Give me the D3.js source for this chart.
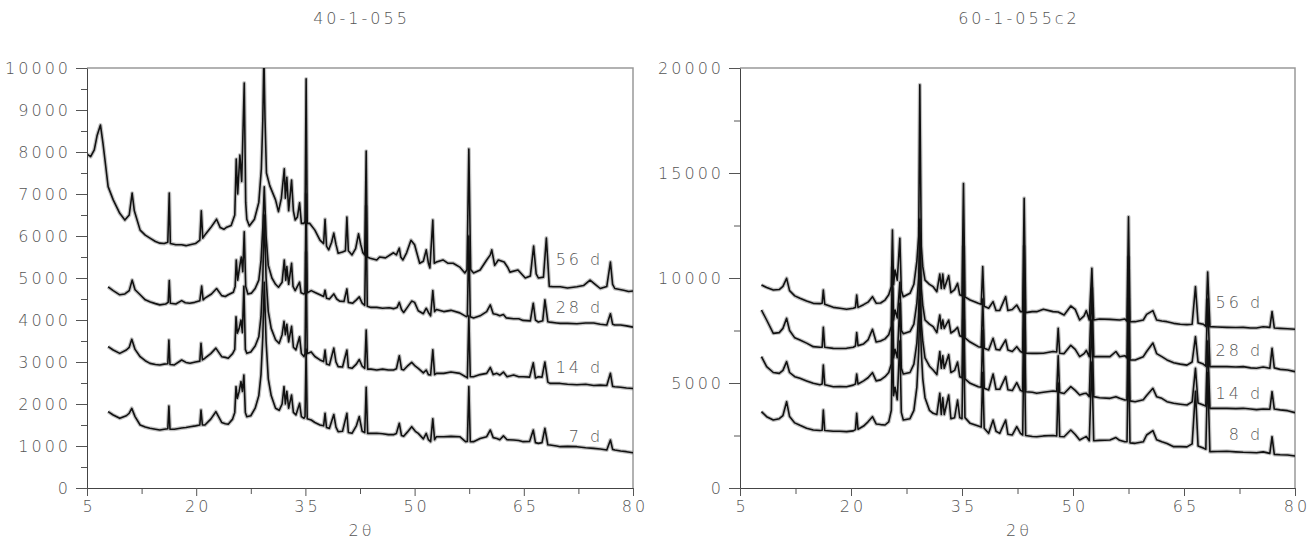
<!DOCTYPE html>
<html>
<head>
<meta charset="utf-8">
<script src="https://cdn.jsdelivr.net/npm/d3@7"></script>
<style>
  body { margin: 0; background: #fff; }
  text { font-family: "DejaVu Sans", sans-serif; font-weight: 200; fill: #555; letter-spacing: 3px; }
</style>
</head>
<body>
<svg id="chart" width="1313" height="548"></svg>
<script>
// ---- data (2θ, counts) ----
const xTicks = [5, 20, 35, 50, 65, 80]
const leftYTicks = [0, 1000, 2000, 3000, 4000, 5000, 6000, 7000, 8000, 9000, 10000]
const rightYTicks = [0, 5000, 10000, 15000, 20000]
const leftNames = ["56 d", "28 d", "14 d", "7 d"]
const rightNames = ["56 d", "28 d", "14 d", "8 d"]

const left56 = [[5.0,7950],[5.5,7890],[6.0,8050],[6.4,8400],[6.85,8640],[7.2,8200],[7.47,7810],[7.9,7175],[8.6,6860],[9.5,6540],[10.2,6380],[10.8,6500],[11.2,7020],[11.5,6600],[12.3,6140],[13.0,6020],[13.65,5950],[14.4,5870],[15.0,5830],[15.6,5820],[16.1,5850],[16.3,7020],[16.45,5820],[17.2,5790],[18.0,5790],[18.6,5770],[19.15,5790],[19.9,5820],[20.5,5900],[20.7,6600],[20.9,5950],[21.3,6050],[22.0,6200],[22.8,6400],[23.3,6200],[23.8,6160],[24.2,6210],[24.8,6250],[25.3,6500],[25.5,7830],[25.7,7000],[26.0,7930],[26.25,7300],[26.6,9640],[26.8,6800],[26.95,6400],[27.3,6240],[28.0,6400],[28.6,6800],[28.95,7600],[29.15,8760],[29.3,10300],[29.45,8800],[29.65,7500],[30.1,7200],[30.9,6860],[31.3,6580],[31.7,6900],[32.1,7600],[32.25,6900],[32.45,7400],[32.7,6600],[33.1,7330],[33.35,6600],[33.6,6380],[33.9,6450],[34.2,6790],[34.45,6300],[34.8,6300],[34.95,6350],[35.1,9740],[35.25,6300],[35.6,6300],[36.3,6140],[37.0,5900],[37.5,5820],[37.7,6400],[37.9,5760],[38.2,5670],[38.6,5850],[38.9,6070],[39.2,5800],[39.5,5590],[40.1,5620],[40.5,5650],[40.7,6450],[40.9,5650],[41.4,5550],[41.9,5700],[42.3,6050],[42.6,5800],[42.9,5600],[43.15,5550],[43.35,8020],[43.5,5500],[43.9,5470],[44.8,5430],[45.2,5500],[46.0,5480],[47.1,5600],[47.5,5550],[47.9,5710],[48.1,5500],[48.4,5430],[48.9,5600],[49.5,5900],[50.0,5790],[50.3,5600],[50.7,5350],[51.2,5400],[51.6,5670],[51.9,5350],[52.1,5240],[52.5,6380],[52.7,5350],[53.0,5380],[53.9,5430],[54.6,5350],[55.3,5350],[56.2,5260],[56.9,5120],[57.2,5200],[57.45,8070],[57.7,5200],[58.1,5120],[59.0,5190],[59.9,5430],[60.4,5550],[60.6,5670],[61.0,5300],[61.5,5430],[62.3,5380],[62.8,5250],[63.1,5140],[64.2,5190],[65.2,5000],[65.9,5050],[66.35,5760],[66.7,5100],[67.0,5000],[67.7,5020],[68.1,5950],[68.5,4800],[69.0,4790],[70.0,4790],[71.0,4760],[72.3,4790],[73.2,4820],[74.1,4950],[74.8,4850],[75.5,4750],[76.4,4800],[76.9,5380],[77.2,4850],[77.5,4750],[78.7,4710],[79.4,4680],[80.0,4690]]

const left28 = [[7.9,4790],[8.6,4700],[9.5,4600],[10.2,4620],[10.8,4700],[11.2,4950],[11.6,4720],[12.3,4600],[13.0,4480],[13.7,4430],[14.4,4390],[15.0,4360],[15.8,4380],[16.15,4420],[16.3,4940],[16.45,4400],[17.2,4380],[18.0,4460],[18.5,4410],[19.1,4400],[19.8,4420],[20.5,4460],[20.75,4810],[20.95,4480],[21.2,4520],[22.1,4620],[22.8,4750],[23.5,4580],[24.0,4560],[24.4,4600],[25.1,4660],[25.35,4800],[25.5,5430],[25.7,4950],[26.0,5300],[26.2,5500],[26.4,5150],[26.6,6100],[26.8,4800],[27.1,4620],[27.6,4640],[28.1,4750],[28.6,4950],[28.9,5400],[29.15,6200],[29.35,7170],[29.6,6000],[29.9,5300],[30.4,5000],[30.9,4850],[31.3,4780],[31.8,4900],[32.1,5430],[32.3,4950],[32.45,5270],[32.7,4850],[33.1,5350],[33.3,4800],[33.6,4700],[34.2,4900],[34.4,4650],[34.8,4620],[34.95,4650],[35.1,7000],[35.25,4650],[35.8,4700],[36.4,4650],[37.0,4600],[37.5,4560],[37.7,4710],[37.9,4520],[38.3,4500],[38.9,4620],[39.3,4500],[39.7,4450],[40.3,4440],[40.7,4740],[40.9,4420],[41.5,4400],[42.0,4480],[42.4,4550],[42.8,4400],[43.15,4350],[43.35,6700],[43.5,4330],[44.0,4300],[44.8,4300],[45.6,4280],[46.5,4290],[47.1,4270],[47.6,4300],[47.9,4420],[48.2,4250],[48.5,4180],[49.0,4300],[49.6,4450],[50.0,4420],[50.5,4220],[51.2,4150],[51.6,4280],[51.9,4180],[52.2,4100],[52.5,4700],[52.75,4200],[53.0,4250],[54.0,4200],[55.0,4230],[56.2,4170],[57.1,4080],[57.25,4100],[57.45,6000],[57.65,4080],[58.1,4050],[59.0,4100],[59.9,4200],[60.4,4360],[60.8,4150],[61.3,4130],[61.7,4100],[62.2,4130],[62.6,4050],[63.6,4030],[64.3,4030],[64.9,3990],[65.9,3980],[66.3,4400],[66.6,4000],[67.0,3950],[67.6,3980],[67.9,4480],[68.3,3960],[68.6,3950],[69.5,3930],[70.0,3920],[71.0,3920],[72.3,3910],[73.5,3930],[74.6,3930],[75.5,3900],[76.4,3880],[76.9,4150],[77.2,3900],[77.5,3880],[78.3,3880],[79.1,3860],[80.0,3830]]

const left14 = [[7.9,3365],[8.6,3286],[9.5,3206],[10.4,3286],[10.8,3350],[11.15,3540],[11.6,3300],[12.3,3127],[13.0,3030],[13.65,2968],[14.4,2940],[15.0,2929],[15.6,2950],[16.1,2960],[16.25,3524],[16.4,2940],[17.0,2930],[18.0,3048],[18.6,2990],[19.15,2968],[19.9,3000],[20.5,3020],[20.66,3445],[20.85,3050],[21.2,3090],[22.0,3200],[22.7,3330],[23.5,3127],[24.0,3110],[24.4,3090],[25.0,3200],[25.3,3300],[25.47,4079],[25.65,3683],[25.9,3800],[26.15,4000],[26.35,3700],[26.55,4800],[26.75,3300],[26.95,3206],[27.5,3240],[28.1,3380],[28.6,3600],[28.9,4079],[29.15,5000],[29.35,6500],[29.6,5000],[29.9,4200],[30.3,3800],[30.9,3530],[31.4,3445],[31.8,3650],[32.06,3970],[32.25,3650],[32.45,3900],[32.7,3480],[33.1,3850],[33.35,3350],[33.7,3290],[34.2,3600],[34.45,3200],[34.8,3130],[34.95,3200],[35.1,5600],[35.25,3200],[35.8,3240],[36.3,3130],[37.0,3050],[37.5,3010],[37.7,3286],[37.9,2950],[38.3,2930],[38.9,3330],[39.2,3000],[39.5,2890],[40.1,2880],[40.7,3286],[40.9,2870],[41.4,2850],[42.0,2950],[42.4,3060],[42.8,2900],[43.15,2850],[43.35,3760],[43.55,2830],[44.0,2830],[44.8,2810],[45.6,2830],[46.4,2810],[47.1,2810],[47.5,2840],[47.9,3150],[48.2,2830],[48.5,2810],[49.0,2900],[49.6,2990],[50.1,2900],[50.5,2850],[51.2,2740],[51.6,2810],[51.9,2700],[52.2,2690],[52.5,3290],[52.75,2700],[53.0,2730],[54.0,2730],[55.0,2760],[56.2,2730],[57.0,2650],[57.25,2620],[57.45,4100],[57.65,2650],[58.1,2650],[59.0,2700],[59.9,2730],[60.4,2870],[60.8,2700],[61.3,2730],[61.7,2690],[62.2,2760],[62.7,2650],[63.6,2690],[64.3,2650],[64.9,2650],[65.8,2640],[66.3,2980],[66.6,2620],[67.0,2650],[67.5,2640],[67.9,3000],[68.3,2520],[68.6,2490],[69.5,2490],[70.0,2490],[71.0,2470],[72.3,2460],[73.5,2470],[74.6,2440],[75.5,2450],[76.4,2440],[76.9,2730],[77.2,2420],[77.5,2410],[78.3,2400],[79.1,2380],[80.0,2370]]

const left7 = [[7.9,1817],[8.6,1738],[9.5,1659],[10.4,1720],[10.8,1780],[11.15,1896],[11.6,1700],[12.3,1500],[13.0,1450],[13.65,1421],[14.4,1400],[15.0,1381],[15.6,1400],[16.1,1410],[16.25,1952],[16.4,1400],[17.0,1400],[18.0,1430],[18.6,1440],[19.15,1460],[19.9,1480],[20.5,1500],[20.66,1857],[20.85,1500],[21.2,1500],[22.0,1640],[22.7,1817],[23.5,1560],[24.0,1530],[24.4,1520],[25.0,1640],[25.3,1800],[25.47,2413],[25.65,2135],[25.9,2300],[26.15,2532],[26.35,2300],[26.55,2690],[26.75,1800],[26.95,1698],[27.5,1720],[28.1,1900],[28.6,2200],[28.9,2700],[29.15,3600],[29.35,4900],[29.6,3500],[29.9,2600],[30.3,2200],[30.9,1900],[31.4,1850],[31.8,2000],[32.06,2413],[32.25,2000],[32.45,2300],[32.7,1900],[33.1,2214],[33.35,1800],[33.7,1740],[34.2,2015],[34.45,1700],[34.8,1660],[34.95,1700],[35.1,3300],[35.25,1650],[35.8,1619],[36.3,1560],[37.0,1500],[37.5,1480],[37.7,1778],[37.9,1440],[38.3,1420],[38.9,1750],[39.2,1450],[39.5,1341],[40.1,1350],[40.7,1778],[40.9,1320],[41.4,1302],[42.0,1480],[42.4,1700],[42.8,1350],[43.15,1320],[43.35,2400],[43.55,1300],[44.0,1300],[44.8,1302],[45.6,1290],[46.4,1270],[47.1,1270],[47.5,1300],[47.9,1540],[48.2,1250],[48.5,1230],[49.0,1330],[49.6,1460],[50.1,1350],[50.5,1300],[51.2,1170],[51.6,1300],[51.9,1150],[52.2,1103],[52.5,1650],[52.75,1150],[53.0,1222],[54.0,1222],[55.0,1230],[56.2,1222],[57.0,1103],[57.25,1110],[57.45,2413],[57.65,1100],[58.1,1103],[59.0,1180],[59.9,1222],[60.4,1381],[60.8,1200],[61.3,1180],[61.7,1150],[62.2,1240],[62.7,1150],[63.6,1143],[64.3,1130],[64.9,1103],[65.8,1110],[66.3,1381],[66.6,1080],[67.0,1063],[67.5,1080],[67.9,1420],[68.3,1030],[68.6,1023],[69.5,1000],[70.0,984],[71.0,990],[72.3,984],[73.5,960],[74.6,944],[75.5,930],[76.4,905],[76.9,1143],[77.2,920],[77.5,905],[78.3,880],[79.1,865],[80.0,840]]

const right56 = [[7.9,9667],[8.6,9550],[9.5,9430],[10.3,9450],[10.8,9600],[11.3,9984],[11.7,9400],[12.4,9150],[13.1,9032],[14.0,8900],[14.9,8794],[15.8,8780],[16.1,8800],[16.26,9429],[16.45,8750],[17.6,8603],[18.5,8560],[19.4,8508],[20.3,8560],[20.6,8600],[20.77,9190],[20.95,8600],[21.7,8730],[22.3,8850],[22.9,9111],[23.4,8800],[24.0,8810],[24.6,8950],[25.1,9200],[25.45,9600],[25.6,12286],[25.75,9700],[25.95,10381],[26.25,9900],[26.6,11889],[26.8,9400],[27.07,9111],[27.97,9270],[28.5,9700],[28.9,10800],[29.15,12000],[29.3,19200],[29.5,11500],[29.7,10540],[30.0,9900],[30.6,9700],[31.1,9587],[31.6,9350],[32.0,10190],[32.2,9500],[32.4,10190],[32.6,9500],[33.2,10111],[33.5,9300],[34.0,9450],[34.4,9746],[34.7,9200],[35.0,9150],[35.2,14500],[35.4,9100],[36.1,8952],[37.2,8800],[37.6,8750],[37.8,10540],[38.0,8650],[38.6,8560],[39.2,8873],[39.6,8450],[40.1,8460],[40.9,9111],[41.2,8450],[41.8,8500],[42.4,8714],[42.9,8400],[43.2,8400],[43.4,13800],[43.6,8350],[44.5,8400],[45.1,8397],[46.0,8508],[47.3,8400],[48.0,8380],[48.8,8238],[49.7,8667],[50.3,8508],[50.9,8000],[51.5,8200],[51.8,8444],[52.2,8000],[52.55,10460],[52.8,8000],[53.6,8050],[55.0,8030],[56.3,8000],[57.0,8050],[57.3,7950],[57.5,12920],[57.7,7920],[58.4,7921],[59.5,8000],[59.95,8270],[60.8,8444],[61.3,8000],[62.0,7950],[62.7,7921],[63.6,7841],[64.5,7800],[65.4,7780],[66.1,7800],[66.55,9587],[66.9,7850],[67.6,7800],[67.95,7700],[68.2,10286],[68.5,7683],[69.5,7670],[70.8,7650],[72.0,7640],[73.0,7650],[74.0,7620],[74.8,7620],[75.7,7680],[76.6,7650],[76.9,8397],[77.2,7620],[78.0,7600],[79.0,7580],[80.0,7556]]

const right28 = [[7.9,8476],[8.6,8000],[9.5,7365],[10.3,7400],[10.8,7600],[11.3,8079],[11.7,7500],[12.4,7150],[13.1,7048],[14.0,6900],[14.9,6730],[15.8,6700],[16.1,6710],[16.26,7651],[16.45,6700],[17.6,6650],[18.5,6640],[19.4,6651],[20.3,6700],[20.6,6760],[20.77,7397],[20.95,6780],[21.7,6860],[22.3,7050],[22.9,7556],[23.4,6950],[24.0,7000],[24.6,7100],[25.1,7300],[25.45,7700],[25.6,10500],[25.75,8000],[25.95,8476],[26.25,8100],[26.6,9800],[26.8,7500],[27.07,7350],[27.97,7450],[28.5,7800],[28.9,8800],[29.15,10000],[29.3,12800],[29.5,9500],[29.7,8700],[30.0,8000],[30.6,7800],[31.1,7683],[31.6,7400],[32.0,8238],[32.2,7600],[32.4,8000],[32.6,7600],[33.2,8000],[33.5,7380],[34.0,7500],[34.4,7650],[34.7,7250],[35.0,7200],[35.2,11500],[35.4,7150],[36.1,6950],[37.2,6730],[37.6,6700],[37.8,9000],[38.0,6650],[38.6,6570],[39.2,7127],[39.6,6600],[40.1,6570],[40.9,7050],[41.2,6570],[41.8,6500],[42.4,6730],[42.9,6500],[43.2,6450],[43.4,11500],[43.6,6420],[44.5,6413],[45.1,6413],[46.0,6420],[47.3,6500],[47.8,6480],[48.0,7603],[48.2,6420],[48.8,6400],[49.7,6794],[50.3,6600],[50.9,6254],[51.5,6400],[51.8,6550],[52.2,6254],[52.55,9500],[52.8,6254],[53.6,6260],[55.0,6254],[55.8,6500],[56.3,6250],[57.0,6300],[57.3,6200],[57.5,11000],[57.7,6100],[58.4,6095],[59.5,6254],[59.95,6500],[60.8,6905],[61.3,6400],[62.0,6254],[62.7,6100],[63.6,5968],[64.5,5900],[65.4,5850],[66.1,6000],[66.55,7206],[66.9,6000],[67.6,5900],[67.95,5800],[68.2,9000],[68.5,5778],[69.5,5778],[70.8,5778],[72.0,5760],[73.0,5778],[74.0,5720],[74.8,5700],[75.7,5760],[76.6,5700],[76.9,6651],[77.2,5720],[78.0,5650],[79.0,5619],[80.0,5540]]

const right14 = [[7.9,6254],[8.6,5778],[9.5,5500],[10.3,5460],[10.8,5600],[11.3,6016],[11.7,5500],[12.4,5300],[13.1,5222],[14.0,5100],[14.9,4984],[15.8,4920],[16.1,4950],[16.26,5857],[16.45,4920],[17.6,4825],[18.5,4830],[19.4,4825],[20.3,4900],[20.6,4950],[20.77,5429],[20.95,4950],[21.7,5100],[22.3,5250],[22.9,5492],[23.4,5100],[24.0,5150],[24.6,5300],[25.1,5500],[25.45,5900],[25.6,9500],[25.75,6200],[25.95,6600],[26.25,6200],[26.6,8800],[26.8,5700],[27.07,5429],[27.97,5500],[28.5,5900],[28.9,6900],[29.15,8300],[29.3,11000],[29.5,7800],[29.7,7000],[30.0,6200],[30.6,5800],[31.1,5619],[31.6,5400],[32.0,6492],[32.2,5700],[32.4,6300],[32.6,5700],[33.2,6350],[33.5,5500],[34.0,5600],[34.4,6000],[34.7,5300],[35.0,5250],[35.2,9000],[35.4,5200],[36.1,4984],[37.2,4825],[37.6,4800],[37.8,7500],[38.0,4750],[38.6,4667],[39.2,5429],[39.6,4700],[40.1,4700],[40.9,5300],[41.2,4680],[41.8,4640],[42.4,5016],[42.9,4650],[43.2,4600],[43.4,9000],[43.6,4587],[44.5,4560],[45.1,4508],[46.0,4560],[47.3,4620],[47.8,4600],[48.0,6300],[48.2,4550],[48.8,4500],[49.7,4825],[50.3,4650],[50.9,4429],[51.5,4500],[51.8,4510],[52.2,4350],[52.55,8000],[52.8,4350],[53.6,4300],[55.0,4270],[55.8,4350],[56.3,4270],[57.0,4190],[57.3,4200],[57.5,9000],[57.7,4150],[58.4,4111],[59.5,4200],[59.95,4400],[60.8,4746],[61.3,4350],[62.0,4270],[62.7,4111],[63.6,4032],[64.5,3990],[65.4,3950],[66.1,4100],[66.55,5700],[66.9,4050],[67.6,3950],[67.95,3900],[68.2,7000],[68.5,3794],[69.5,3794],[70.8,3794],[72.0,3780],[73.0,3794],[74.0,3760],[74.8,3730],[75.7,3760],[76.6,3750],[76.9,4587],[77.2,3760],[78.0,3720],[79.0,3683],[80.0,3587]]

const right8 = [[7.9,3635],[8.6,3397],[9.5,3238],[10.3,3300],[10.8,3450],[11.3,4111],[11.7,3400],[12.4,3100],[13.1,2984],[14.0,2850],[14.9,2762],[15.8,2740],[16.1,2750],[16.26,3714],[16.45,2740],[17.6,2700],[18.5,2700],[19.4,2683],[20.3,2720],[20.6,2780],[20.77,3556],[20.95,2800],[21.7,2950],[22.3,3150],[22.9,3397],[23.4,3050],[24.0,3020],[24.6,3000],[25.1,3150],[25.45,3700],[25.6,7500],[25.75,4400],[25.95,4800],[26.25,4200],[26.6,7000],[26.8,3600],[27.07,3238],[27.97,3300],[28.5,3700],[28.9,4800],[29.15,6500],[29.3,9000],[29.5,6500],[29.7,5200],[30.0,4300],[30.6,3700],[31.1,3556],[31.6,3500],[32.0,4508],[32.2,3500],[32.4,4300],[32.6,3500],[33.2,4429],[33.5,3300],[34.0,3350],[34.4,4190],[34.7,3350],[35.0,3300],[35.2,8000],[35.4,3350],[36.1,3079],[37.2,2950],[37.6,2900],[37.8,5500],[38.0,2850],[38.6,2603],[39.2,3238],[39.6,2700],[40.1,2603],[40.9,3238],[41.2,2560],[41.8,2524],[42.4,2921],[42.9,2600],[43.2,2524],[43.4,7500],[43.6,2500],[44.5,2450],[45.1,2444],[46.0,2480],[47.3,2500],[47.8,2480],[48.0,5000],[48.2,2450],[48.8,2440],[49.7,2762],[50.3,2550],[50.9,2286],[51.5,2400],[51.8,2450],[52.2,2250],[52.55,6000],[52.8,2250],[53.6,2270],[55.0,2286],[55.8,2400],[56.3,2270],[57.0,2200],[57.3,2200],[57.5,7000],[57.7,2150],[58.4,2127],[59.5,2200],[59.95,2524],[60.8,2730],[61.3,2300],[62.0,2200],[62.7,2120],[63.6,1968],[64.5,1968],[65.4,1960],[66.1,2100],[66.55,4600],[66.9,2000],[67.6,1900],[67.95,1850],[68.2,5500],[68.5,1730],[69.5,1740],[70.8,1750],[72.0,1720],[73.0,1700],[74.0,1690],[74.8,1680],[75.7,1720],[76.6,1650],[76.9,2444],[77.2,1600],[78.0,1580],[79.0,1571],[80.0,1524]]

// label anchors in data units (2θ, counts)
const leftLabelAt = [[75.5,5450],[75.5,4310],[75.5,2860],[75.5,1240]]
const rightLabelAt = [[75.3,8860],[75.3,6570],[75.3,4520],[75.3,2570]]

const panels = [
  { title: "40-1-055", x0: 87, x1: 633, yMax: 10000, yTicks: leftYTicks, yMinor: 500,
    series: [left56, left28, left14, left7], names: leftNames, labelAt: leftLabelAt },
  { title: "60-1-055c2", x0: 740, x1: 1295, yMax: 20000, yTicks: rightYTicks, yMinor: 2500,
    series: [right56, right28, right14, right8], names: rightNames, labelAt: rightLabelAt }
]

const plotTop = 68, plotBottom = 488
const svg = d3.select("#chart")

panels.forEach((p, pi) => {
  const x = d3.scaleLinear().domain([5, 80]).range([p.x0, p.x1])
  const y = d3.scaleLinear().domain([0, p.yMax]).range([plotBottom, plotTop])
  const g = svg.append("g")

  g.append("clipPath").attr("id", "clip" + pi)
    .append("rect").attr("x", p.x0).attr("y", plotTop).attr("width", p.x1 - p.x0).attr("height", plotBottom - plotTop)

  // frame: light top / right border
  g.append("path")
    .attr("d", `M${p.x0},${plotTop}H${p.x1}V${plotBottom}`)
    .attr("fill", "none").attr("stroke", "#999").attr("stroke-width", 1.5)

  // traces (grey halo under a dark line, to get the noisy look)
  const line = d3.line().x(d => x(d[0])).y(d => y(d[1]))
  const traces = g.append("g").attr("clip-path", `url(#clip${pi})`)
  traces.selectAll("path.halo").data(p.series).join("path")
    .attr("class", "halo")
    .attr("d", line)
    .attr("fill", "none").attr("stroke", "#666").attr("stroke-width", 4)
    .attr("stroke-opacity", 0.4).attr("stroke-linejoin", "round")
  traces.selectAll("path.trace").data(p.series).join("path")
    .attr("class", "trace")
    .attr("d", line)
    .attr("fill", "none").attr("stroke", "#111").attr("stroke-width", 1.6)
    .attr("stroke-linejoin", "round")

  // y axis
  const yMinorTicks = d3.range(0, p.yMax + 1, p.yMinor)
  g.append("g")
    .attr("transform", `translate(${p.x0},0)`)
    .call(d3.axisLeft(y).tickValues(yMinorTicks).tickSize(6).tickFormat(""))
    .call(a => a.select(".domain").remove())
    .call(a => a.selectAll("line").attr("stroke", "#555"))
  const yAxis = g.append("g")
    .attr("transform", `translate(${p.x0},0)`)
    .call(d3.axisLeft(y).tickValues(p.yTicks).tickSize(11).tickSizeOuter(0).tickPadding(8).tickFormat(d3.format("d")))
  yAxis.select(".domain").attr("stroke", "#444")
  yAxis.selectAll("line").attr("stroke", "#555")
  yAxis.selectAll("text").attr("font-size", 16).attr("dx", 3).attr("fill", "#555")

  // x axis
  const xMinor = d3.range(12.5, 80, 15)
  g.append("g")
    .attr("transform", `translate(0,${plotBottom})`)
    .call(d3.axisBottom(x).tickValues(xMinor).tickSize(6).tickFormat(""))
    .call(a => a.select(".domain").remove())
    .call(a => a.selectAll("line").attr("stroke", "#555"))
  const xAxis = g.append("g")
    .attr("transform", `translate(0,${plotBottom})`)
    .call(d3.axisBottom(x).tickValues(xTicks).tickSize(8).tickSizeOuter(0).tickPadding(5))
  xAxis.select(".domain").attr("stroke", "#444")
  xAxis.selectAll("line").attr("stroke", "#555")
  xAxis.selectAll("text").attr("font-size", 16).attr("dx", 1.5).attr("fill", "#555")

  // titles
  const cx = (p.x0 + p.x1) / 2
  g.append("text").attr("x", cx + 1.5).attr("y", 24)
    .attr("text-anchor", "middle").attr("font-size", 16).text(p.title)
  g.append("text").attr("x", cx + 1.5).attr("y", 536)
    .attr("text-anchor", "middle").attr("font-size", 16).text("2θ")

  // series labels
  g.selectAll("text.lab").data(p.names).join("text")
    .attr("class", "lab")
    .attr("x", (d, i) => x(p.labelAt[i][0]) + 3)
    .attr("y", (d, i) => y(p.labelAt[i][1]))
    .attr("dy", "0.35em")
    .attr("text-anchor", "end").attr("font-size", 16)
    .text(d => d)
})
</script>
</body>
</html>
